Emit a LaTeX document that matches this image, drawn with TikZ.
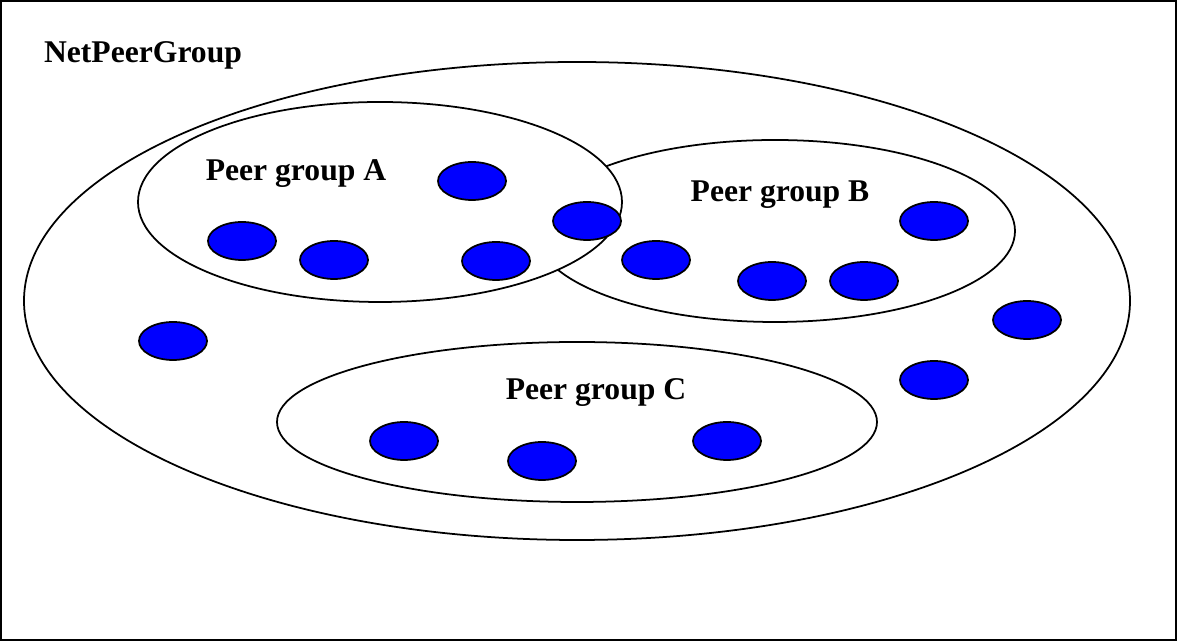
\documentclass[tikz,border=0pt]{standalone}
\usepackage{fontspec}
\setmainfont{Liberation Serif}
\usepackage{tikz}
\usetikzlibrary{shapes.geometric}

\begin{document}
\begin{tikzpicture}[x=0.02cm,y=0.02cm,line width=1pt,
    every node/.style={font=\fontsize{18}{21}\selectfont\bfseries},
    group/.style={draw=black,fill=white},
    peer/.style={ellipse,draw=black,fill=blue,minimum width=1.36cm,minimum height=0.76cm,inner sep=0pt}]
  \useasboundingbox (0,0) rectangle (1177,641);
  \draw (1,1) rectangle (1176,640);
  % groups
  \draw[group] (577,340) ellipse [x radius=553,y radius=239];
  \draw[group] (577,219) ellipse [x radius=300,y radius=80];
  \draw[group] (775,410) ellipse [x radius=240,y radius=91];
  \draw[group] (380,439) ellipse [x radius=242,y radius=100];
  \node (net) at (143,586) {NetPeerGroup};
  \node (grpA) at (296,467) {Peer group A};
  \node (grpB) at (780,446) {Peer group B};
  \node (grpC) at (596,248) {Peer group C};
  % peers
  \foreach \px/\py [count=\i] in {472/460,242/400,334/381,496/380,587/420,656/381,772/360,864/360,
      934/420,1027/321,934/261,173/300,404/200,542/180,727/200}
    \node[peer] (p\i) at (\px,\py) {};
\end{tikzpicture}
\end{document}
